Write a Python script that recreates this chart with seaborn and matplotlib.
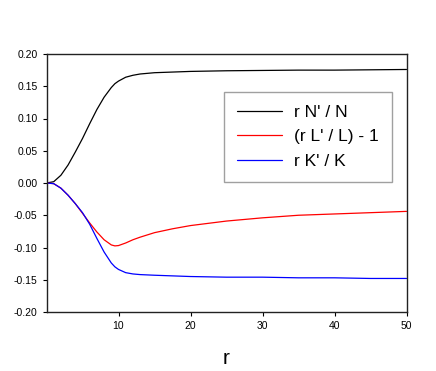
import numpy as np
import pandas as pd
import seaborn as sns
import matplotlib
matplotlib.use("Agg")
import matplotlib.pyplot as plt

# values
r_vals = [0, 1, 2, 3, 4, 5, 6, 7, 8, 9, 9.5, 10, 11, 12, 13, 15, 17.5, 20, 25, 30, 35, 40, 45, 50]
n_vals = [0, 0.002, 0.012, 0.028, 0.048, 0.069, 0.092, 0.114, 0.133, 0.148, 0.154, 0.158, 0.164, 0.167,
          0.169, 0.171, 0.172, 0.173, 0.174, 0.1745, 0.175, 0.175, 0.1755, 0.176]
l_vals = [0, -0.001, -0.008, -0.019, -0.032, -0.047, -0.062, -0.076, -0.088, -0.096, -0.0975, -0.097,
          -0.093, -0.088, -0.084, -0.077, -0.071, -0.066, -0.059, -0.054, -0.050, -0.048, -0.046, -0.044]
k_vals = [0, -0.001, -0.008, -0.019, -0.032, -0.046, -0.064, -0.086, -0.107, -0.124, -0.130, -0.134,
          -0.139, -0.141, -0.142, -0.143, -0.144, -0.145, -0.146, -0.146, -0.147, -0.147, -0.148, -0.148]
series_names = ["r N' / N", "(r L' / L) - 1", "r K' / K"]
series_colors = ["black", "#ff0000", "#0000ff"]
y_ticks = [-0.20, -0.15, -0.10, -0.05, 0.00, 0.05, 0.10, 0.15, 0.20]
x_ticks = [10, 20, 30, 40, 50]

df = pd.DataFrame({
    "r": r_vals * 3,
    "value": n_vals + l_vals + k_vals,
    "series": [series_names[0]] * len(r_vals) + [series_names[1]] * len(r_vals) + [series_names[2]] * len(r_vals),
})

sns.set_style("ticks")
plt.rcParams['font.family'] = ['Liberation Sans', 'DejaVu Sans']
plt.rcParams['text.color'] = 'black'
plt.rcParams['axes.labelcolor'] = 'black'

fig = plt.figure(figsize=(4.36, 3.71), dpi=100)
ax = fig.add_axes([46.5 / 436, 59 / 371, 360 / 436, 258 / 371])

sns.lineplot(data=df, x="r", y="value", hue="series", hue_order=series_names,
             palette=series_colors, linewidth=0.9, ax=ax)

ax.set_xlim(0, 50)
ax.set_ylim(-0.20, 0.20)
ax.set_xticks(x_ticks)
ax.set_yticks(y_ticks)
ax.set_yticklabels([f"{t:.2f}" for t in y_ticks])
ax.tick_params(labelsize=7.5, length=3, width=0.8, color="black", labelcolor="black")
for sp in ax.spines.values():
    sp.set_visible(True)
    sp.set_linewidth(1.0)
    sp.set_color("#222222")
ax.set_ylabel("")
ax.set_xlabel("r", fontsize=15, labelpad=13)

ax.legend(loc="upper left", bbox_to_anchor=(224 / 436, 1 - 91.5 / 371), bbox_transform=fig.transFigure,
          fontsize=12.5, frameon=True, fancybox=False, edgecolor="#888888", handlelength=2.6,
          borderpad=0.75, labelspacing=0.55, handletextpad=0.7, borderaxespad=0, labelcolor="black")

fig.savefig("out.png", dpi=100)
